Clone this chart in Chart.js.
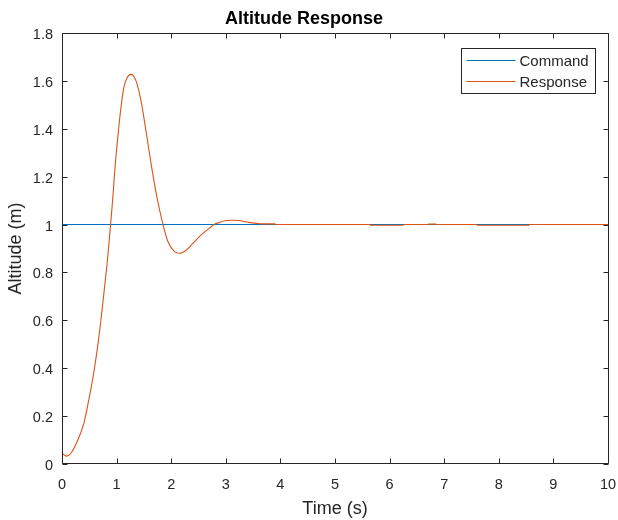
<!DOCTYPE html>
<html>
<head>
<meta charset="utf-8">
<script src="https://cdn.jsdelivr.net/npm/chart.js@4/dist/chart.umd.min.js"></script>
<style>
  html, body { margin: 0; padding: 0; background: #fff; }
  #wrap { width: 618px; height: 520px; }
</style>
</head>
<body>
<div id="wrap"><canvas id="alt" width="618" height="520"></canvas></div>
<script>
// step response of the altitude loop, time in seconds
const respT = [0, 0.08, 0.17, 0.29, 0.40, 0.49, 0.58, 0.66, 0.72, 0.78, 0.84, 0.89, 0.93, 0.975,
  1.02, 1.07, 1.13, 1.19, 1.27, 1.36, 1.45, 1.54, 1.635, 1.73, 1.85, 1.94,
  2.06, 2.15, 2.28, 2.40, 2.55, 2.70, 2.80, 2.89, 2.98, 3.10, 3.25, 3.35, 3.45, 3.57, 3.65, 3.90, 3.91,
  5.64, 5.65, 6.25, 6.26, 6.70, 6.71, 6.85, 6.86, 7.60, 7.61, 8.55, 8.56, 10];
const respY = [0.045, 0.033, 0.047, 0.100, 0.170, 0.267, 0.379, 0.504, 0.615, 0.740, 0.870, 1.000, 1.110, 1.250,
  1.360, 1.470, 1.570, 1.612, 1.627, 1.597, 1.513, 1.388, 1.249, 1.124, 1.000, 0.929,
  0.887, 0.880, 0.894, 0.922, 0.957, 0.985, 1.002, 1.009, 1.016, 1.018, 1.017, 1.012, 1.008, 1.005, 1.003, 1.003, 1.000,
  1.000, 0.997, 0.997, 1.000, 1.000, 1.002, 1.002, 1.000, 1.000, 0.997, 0.997, 1.000, 1.000];
const cmdT = [0, 10];
const cmdY = [1, 1];

const xTicks = [0, 1, 2, 3, 4, 5, 6, 7, 8, 9, 10];
const yTicks = [0, 0.2, 0.4, 0.6, 0.8, 1, 1.2, 1.4, 1.6, 1.8];
const yTickLabels = ["0", "0.2", "0.4", "0.6", "0.8", "1", "1.2", "1.4", "1.6", "1.8"];

const FONT = "'Liberation Sans', Arial, Helvetica, sans-serif";
const AXIS = "#262626";

// MATLAB-like box with inward ticks on all four sides, plus the legend
const boxTicks = {
  id: "boxTicks",
  afterDraw(chart) {
    const { ctx, chartArea: a, scales } = chart;
    const L = Math.round(a.left) + 0.5, R = Math.round(a.right) + 0.5;
    const T = Math.round(a.top) + 0.5, B = Math.round(a.bottom) - 0.5;
    ctx.save();
    ctx.strokeStyle = AXIS;
    ctx.lineWidth = 1;
    ctx.beginPath();
    ctx.rect(L, T, R - L, B - T);
    xTicks.forEach((v) => {
      const px = Math.round(scales.x.getPixelForValue(v)) + 0.5;
      ctx.moveTo(px, B); ctx.lineTo(px, B - 5);
      ctx.moveTo(px, T); ctx.lineTo(px, T + 5);
    });
    yTicks.forEach((v) => {
      const py = Math.round(scales.y.getPixelForValue(v)) + 0.5;
      ctx.moveTo(L, py); ctx.lineTo(L + 5, py);
      ctx.moveTo(R, py); ctx.lineTo(R - 5, py);
    });
    ctx.stroke();

    // legend box in the upper right corner
    ctx.font = "15px " + FONT;
    const sets = chart.data.datasets;
    const tw = Math.max(...sets.map((d) => ctx.measureText(d.label).width));
    const lineLen = 49, rowH = 21.5;
    const w = Math.round(5 + lineLen + 4 + tw + 7);
    const h = 45;
    const bx = Math.round(R - 14 - w) + 0.5, by = Math.round(T + 14) + 0.5;
    ctx.fillStyle = "#fff";
    ctx.fillRect(bx, by, w, h);
    ctx.strokeStyle = AXIS;
    ctx.strokeRect(bx, by, w, h);
    ctx.textBaseline = "middle";
    sets.forEach((d, i) => {
      const y = Math.round(by + 11 + i * rowH) + 0.5;
      ctx.strokeStyle = d.borderColor;
      ctx.beginPath();
      ctx.moveTo(bx + 5, y); ctx.lineTo(bx + 5 + lineLen, y);
      ctx.stroke();
      ctx.fillStyle = AXIS;
      ctx.fillText(d.label, bx + 5 + lineLen + 4, y + 1);
    });
    ctx.restore();
  }
};

new Chart(document.getElementById("alt"), {
  type: "scatter",
  data: {
    datasets: [
      {
        label: "Command",
        data: cmdT.map((t, i) => ({ x: t, y: cmdY[i] })),
        borderColor: "#0072BD",
        showLine: true,
        borderWidth: 1.1,
        pointRadius: 0,
        order: 1,
      },
      {
        label: "Response",
        data: respT.map((t, i) => ({ x: t, y: respY[i] })),
        borderColor: "#D95319",
        showLine: true,
        borderWidth: 1.1,
        pointRadius: 0,
        cubicInterpolationMode: "monotone",
        order: 0,
      },
    ],
  },
  plugins: [boxTicks],
  options: {
    responsive: false,
    animation: false,
    layout: { padding: { left: 0, right: 10, top: 0, bottom: 0 } },
    plugins: {
      legend: { display: false },
      tooltip: { enabled: false },
      title: {
        display: true,
        text: "Altitude Response",
        color: "#000",
        font: { family: FONT, size: 18, weight: "bold" },
        padding: { top: 8, bottom: 3.4 },
      },
    },
    scales: {
      x: {
        type: "linear",
        min: 0,
        max: 10,
        afterBuildTicks: (s) => { s.ticks = xTicks.map((v) => ({ value: v })); },
        afterFit: (s) => { s.height = 56; s.paddingLeft = 0; s.paddingRight = 0; },
        grid: { display: false },
        border: { display: false },
        ticks: {
          color: AXIS,
          padding: 4,
          maxRotation: 0,
          font: { family: FONT, size: 14.5 },
          callback: (v) => String(v),
        },
        title: {
          display: true,
          text: "Time (s)",
          color: AXIS,
          font: { family: FONT, size: 18 },
          padding: { top: 1, bottom: 0 },
        },
      },
      y: {
        type: "linear",
        min: 0,
        max: 1.8,
        afterBuildTicks: (s) => { s.ticks = yTicks.map((v) => ({ value: v })); },
        afterFit: (s) => { s.width = 62; },
        grid: { display: false },
        border: { display: false },
        ticks: {
          color: AXIS,
          padding: 1,
          labelOffset: 2,
          font: { family: FONT, size: 14.5 },
          callback: (v) => yTickLabels[yTicks.indexOf(v)] ?? "",
        },
        title: {
          display: true,
          text: "Altitude (m)",
          color: AXIS,
          font: { family: FONT, size: 18 },
          padding: { top: 5, bottom: 0 },
        },
      },
    },
  },
});
</script>
</body>
</html>
